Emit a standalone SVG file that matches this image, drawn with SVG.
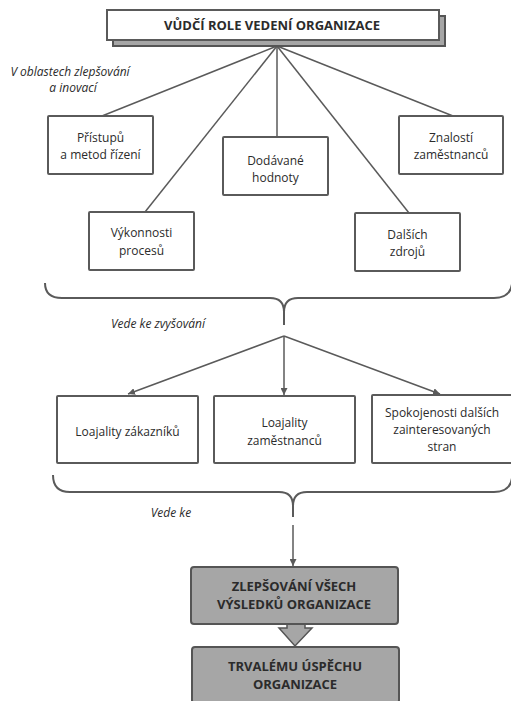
<svg xmlns="http://www.w3.org/2000/svg" width="511" height="701" viewBox="0 0 511 701">
<defs>
<marker id="ah" viewBox="0 0 10 10" refX="10" refY="5" markerWidth="7" markerHeight="7" markerUnits="userSpaceOnUse" orient="auto">
<path d="M0,0 L10,5 L0,10 z" fill="#5a5a5a"/>
</marker>
<style>
text{font-family:"Open Sans","Noto Sans",sans-serif;font-size:12px;fill:#2b2b2b;text-anchor:middle}
.b{font-weight:bold;font-size:13px}
.i{font-style:italic}
.box{fill:#fff;stroke:#5a5a5a;stroke-width:2}
.gbox{fill:#a6a6a6;stroke:#555;stroke-width:2}
.ln{fill:none;stroke:#5a5a5a;stroke-width:1.5}
.br{fill:none;stroke:#5a5a5a;stroke-width:2}
</style>
</defs>
<rect width="511" height="701" fill="#fff"/>

<g id="connectors">
<path class="ln" d="M277,46 L102,116"/>
<path class="ln" d="M277,46 L145,212"/>
<path class="ln" d="M277,46 L277,137"/>
<path class="ln" d="M277,46 L409,213"/>
<path class="ln" d="M277,46 L453,116"/>
<path class="ln" d="M284,336 L128,394" marker-end="url(#ah)"/>
<path class="ln" d="M284,336 L284,395" marker-end="url(#ah)"/>
<path class="ln" d="M284,336 L440,394" marker-end="url(#ah)"/>
<path class="ln" d="M293,525 L293,566" marker-end="url(#ah)"/>
<path d="M287,623 L305,623 L305,628 L312,628 L295,646 L279,628 L287,628 z" fill="#a6a6a6" stroke="#555" stroke-width="1.5"/>
</g>

<g id="brace1">
<path class="br" d="M45,283 Q45,298 62,298 L270,298 Q284,298 284,312 L284,325 M284,312 Q284,298 298,298 L494,298 Q510,298 512,284"/>
</g>
<g id="brace2">
<path class="br" d="M53,475 Q53,492 70,492 L279,492 Q293,492 293,506 L293,517 M293,506 Q293,492 307,492 L494,492 Q510,492 512,478"/>
</g>

<g id="n-top">
<rect x="113" y="16" width="332" height="30" fill="#a6a6a6" stroke="#555" stroke-width="2"/>
<rect class="box" x="107" y="10" width="332" height="30"/>
<text class="b" x="272" y="30">VŮDČÍ ROLE VEDENÍ ORGANIZACE</text>
</g>

<g id="lbl-oblast">
<text class="i" x="70" y="76">V oblastech zlepšování</text>
<text class="i" x="73" y="92">a inovací</text>
</g>

<g id="n-pristupu">
<rect class="box" x="48" y="116" width="105" height="58" rx="1"/>
<text x="100.5" y="142">Přístupů</text>
<text x="100.5" y="159">a metod řízení</text>
</g>
<g id="n-dodavane">
<rect class="box" x="223" y="137" width="105" height="58" rx="1"/>
<text x="275.5" y="165">Dodávané</text>
<text x="275.5" y="182">hodnoty</text>
</g>
<g id="n-znalosti">
<rect class="box" x="399" y="116" width="104" height="58" rx="1"/>
<text x="451" y="142">Znalostí</text>
<text x="451" y="159">zaměstnanců</text>
</g>
<g id="n-vykonnosti">
<rect class="box" x="89" y="212" width="105" height="58" rx="1"/>
<text x="141.5" y="237">Výkonnosti</text>
<text x="141.5" y="255">procesů</text>
</g>
<g id="n-dalsich">
<rect class="box" x="355" y="213" width="105" height="58" rx="1"/>
<text x="407.5" y="239">Dalších</text>
<text x="407.5" y="256">zdrojů</text>
</g>

<g id="lbl-zvysovani">
<text class="i" x="158" y="328">Vede ke zvyšování</text>
</g>

<g id="n-loaj-zak">
<rect class="box" x="57" y="396" width="141" height="67" rx="1"/>
<text x="127.5" y="436">Loajality zákazníků</text>
</g>
<g id="n-loaj-zam">
<rect class="box" x="214" y="396" width="141" height="67" rx="1"/>
<text x="284.5" y="427">Loajality</text>
<text x="284.5" y="445">zaměstnanců</text>
</g>
<g id="n-spokojenost">
<rect class="box" x="372" y="395" width="140" height="68" rx="1"/>
<text x="442" y="417">Spokojenosti dalších</text>
<text x="442" y="434">zainteresovaných</text>
<text x="442" y="451">stran</text>
</g>

<g id="lbl-vedeke">
<text class="i" x="171" y="517">Vede ke</text>
</g>

<g id="n-zlepsovani">
<rect class="gbox" x="191" y="567" width="207" height="57" rx="3"/>
<text class="b" x="294" y="591">ZLEPŠOVÁNÍ VŠECH</text>
<text class="b" x="294" y="609">VÝSLEDKŮ ORGANIZACE</text>
</g>
<g id="n-trvalemu">
<rect class="gbox" x="192" y="647" width="207" height="56" rx="3"/>
<text class="b" x="295" y="671">TRVALÉMU ÚSPĚCHU</text>
<text class="b" x="295" y="689">ORGANIZACE</text>
</g>
</svg>
